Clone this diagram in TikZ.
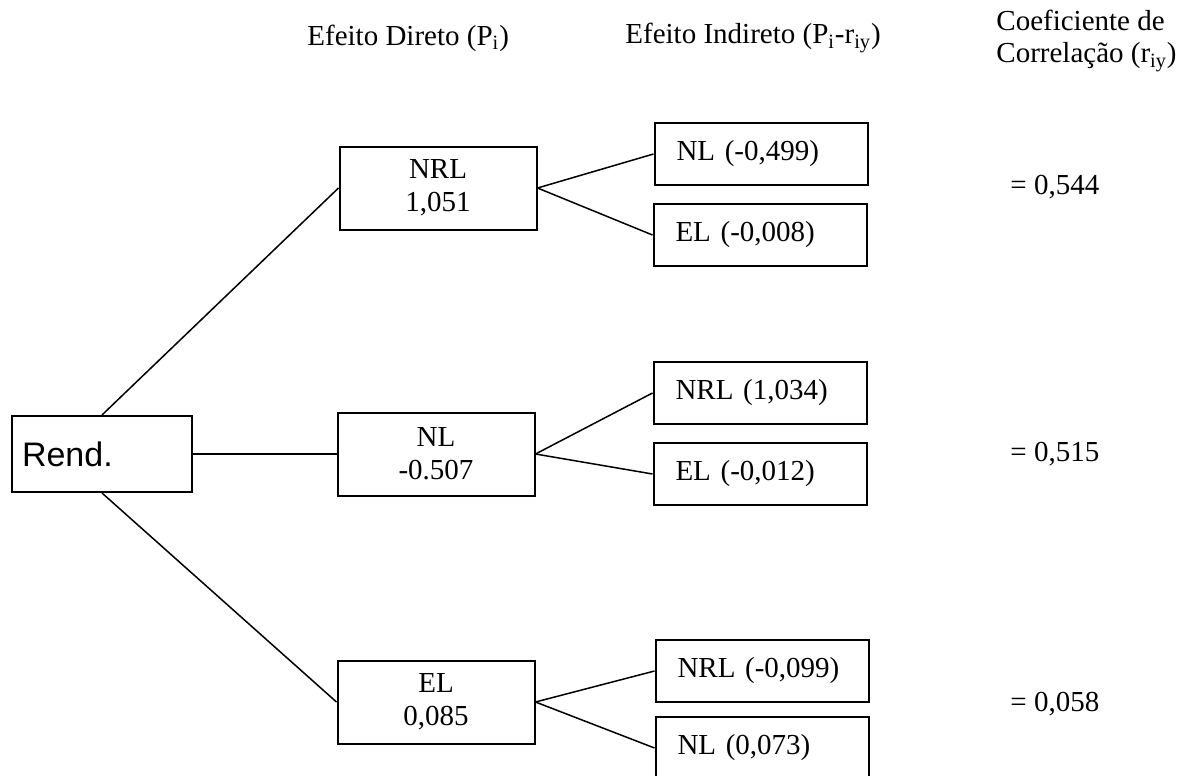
\documentclass[tikz,border=0pt]{standalone}
\usepackage{fontspec}
\setmainfont{Liberation Serif}
\newfontfamily\rendfont{Liberation Sans}
\usetikzlibrary{positioning}
\tikzset{
  path box/.style={
    rectangle, draw=black, line width=1pt,
    minimum width=98.5pt, minimum height=41.5pt,
    text centered, align=center, inner sep=0pt,
    font=\fontsize{14.5}{16.5}\selectfont
  },
  ind box/.style={
    rectangle, draw=black, line width=1pt,
    minimum height=31pt, text width=84.5pt,
    inner xsep=11pt, inner ysep=0pt, align=left,
    font=\fontsize{14.5}{16.5}\selectfont
  },
  rend box/.style={
    rectangle, draw=black, line width=1pt,
    minimum height=38pt, text width=80pt,
    inner xsep=5pt, inner ysep=0pt, align=left,
    font=\rendfont\fontsize{17}{20}\selectfont
  },
  path line/.style={
    draw=black, line width=0.75pt
  },
  head label/.style={
    anchor=west, align=left, inner sep=0pt,
    font=\fontsize{14.5}{16}\selectfont
  }
}

\begin{document}
\begin{tikzpicture}[x=0.5pt, y=-0.5pt]
  \useasboundingbox (0,0) rectangle (1178,776);

  % column heads
  \node (hd-direct) [head label] at (307,38) {Efeito Direto (P\textsubscript{i})};
  \node (hd-indirect) [head label] at (625,38) {Efeito Indireto (P\textsubscript{i}-r\textsubscript{iy})};
  \node (hd-coef) [head label] at (996,41) {Coeficiente de\\Correla\c{c}\~ao (r\textsubscript{iy})};

  % direct effects
  \node (rend) [rend box] at (102,454) {Rend.};
  \node (nrl) [path box] at (438,188) {NRL\\1,051};
  \node (nl) [path box] at (436,454) {NL\\-0.507};
  \node (el) [path box] at (436,702) {EL\\0,085};

  % indirect effects
  \node (nrl-nl) [ind box] at (761,154) {NL (-0,499)};
  \node (nrl-el) [ind box] at (760,235) {EL (-0,008)};
  \node (nl-nrl) [ind box] at (760,393) {NRL (1,034)};
  \node (nl-el) [ind box] at (760,474) {EL (-0,012)};
  \node (el-nrl) [ind box] at (762,671) {NRL (-0,099)};
  \node (el-nl) [ind box] at (762,748) {NL (0,073)};

  % correlations
  \node (c-nrl) [head label] at (1010,187) {= 0,544};
  \node (c-nl) [head label] at (1010,454) {= 0,515};
  \node (c-el) [head label] at (1010,704) {= 0,058};

  \draw [path line] (rend.north) -- (nrl.west);
  \draw [path line] (rend.east) -- (nl.west);
  \draw [path line] (rend.south) -- (el.west);

  \draw [path line] (nrl.east) -- (nrl-nl.west);
  \draw [path line] (nrl.east) -- (nrl-el.west);
  \draw [path line] (nl.east) -- (nl-nrl.west);
  \draw [path line] (nl.east) -- (nl-el.west);
  \draw [path line] (el.east) -- (el-nrl.west);
  \draw [path line] (el.east) -- (el-nl.west);
\end{tikzpicture}
\end{document}
